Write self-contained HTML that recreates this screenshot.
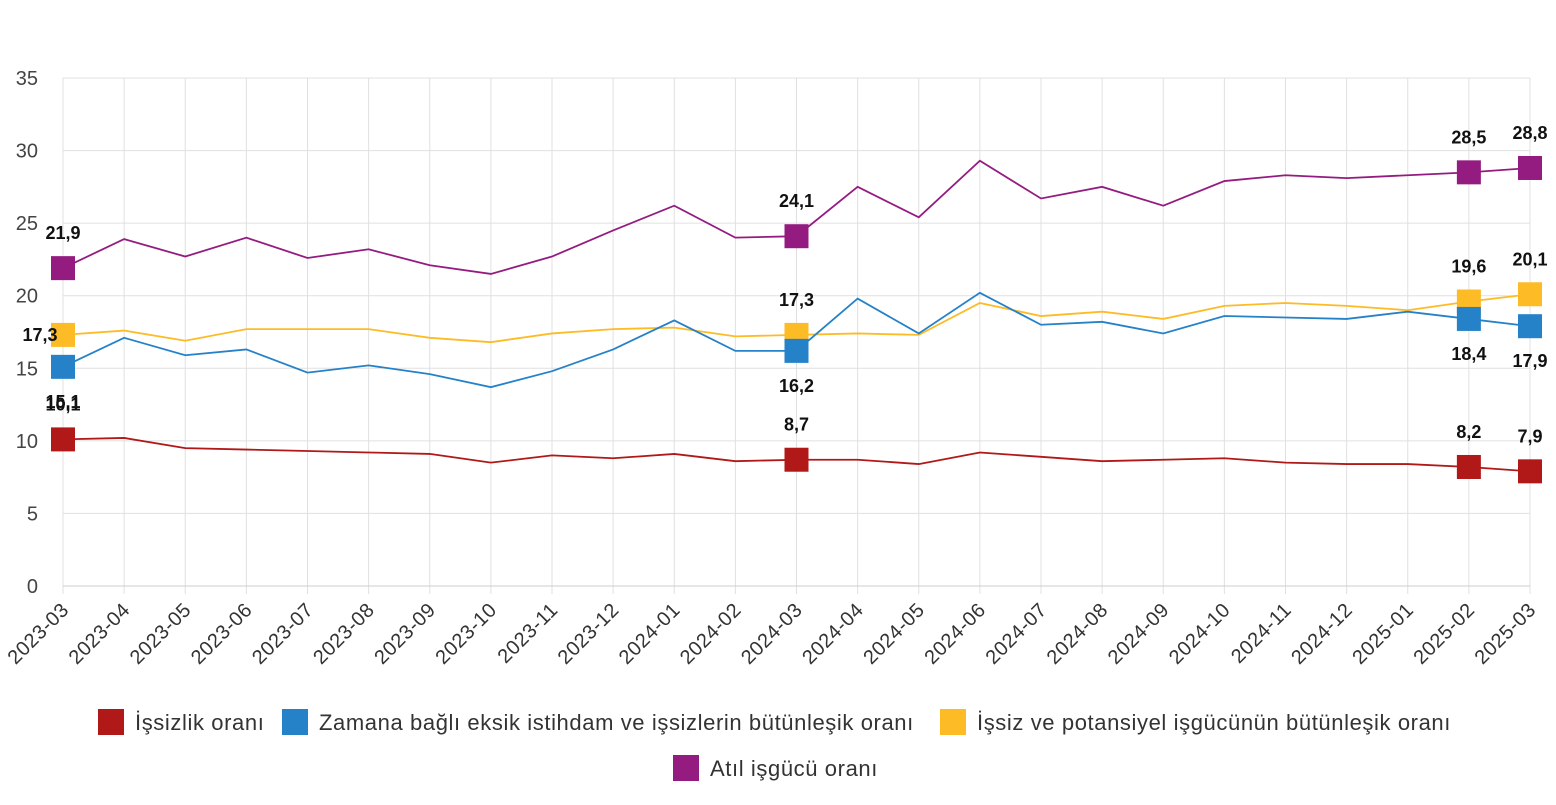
<!DOCTYPE html>
<html><head><meta charset="utf-8"><style>
html,body{margin:0;padding:0;background:#fff;}
body{width:1556px;height:800px;overflow:hidden;font-family:"Liberation Sans",sans-serif;}
</style></head><body>
<svg id="chart" width="1556" height="800" xmlns="http://www.w3.org/2000/svg" font-family="Liberation Sans, sans-serif"></svg>
<script>
const categories=["2023-03","2023-04","2023-05","2023-06","2023-07","2023-08","2023-09","2023-10","2023-11","2023-12","2024-01","2024-02","2024-03","2024-04","2024-05","2024-06","2024-07","2024-08","2024-09","2024-10","2024-11","2024-12","2025-01","2025-02","2025-03"];
const unemployment=[10.1,10.2,9.5,9.4,9.3,9.2,9.1,8.5,9.0,8.8,9.1,8.6,8.7,8.7,8.4,9.2,8.9,8.6,8.7,8.8,8.5,8.4,8.4,8.2,7.9];
const timeRelated=[15.1,17.1,15.9,16.3,14.7,15.2,14.6,13.7,14.8,16.3,18.3,16.2,16.2,19.8,17.4,20.2,18.0,18.2,17.4,18.6,18.5,18.4,18.9,18.4,17.9];
const potential=[17.3,17.6,16.9,17.7,17.7,17.7,17.1,16.8,17.4,17.7,17.8,17.2,17.3,17.4,17.3,19.5,18.6,18.9,18.4,19.3,19.5,19.3,19.0,19.6,20.1];
const slack=[21.9,23.9,22.7,24.0,22.6,23.2,22.1,21.5,22.7,24.5,26.2,24.0,24.1,27.5,25.4,29.3,26.7,27.5,26.2,27.9,28.3,28.1,28.3,28.5,28.8];
const yTicks=[0,5,10,15,20,25,30,35];
const labeledIdx=[0,12,23,24];

const svg=document.getElementById('chart');
const NS="http://www.w3.org/2000/svg";
const X0=63,X1=1530,Y0=586,Y1=78,YMAX=35;
const xs=i=>X0+(X1-X0)*i/(categories.length-1);
const ys=v=>Y0-(Y0-Y1)*v/YMAX;
function mk(t,a,p){const e=document.createElementNS(NS,t);for(const k in a)e.setAttribute(k,a[k]);(p||svg).appendChild(e);return e;}

const grid=mk('g',{});


yTicks.forEach(v=>{
  const l=mk('line',{x1:X0,x2:X1,y1:ys(v),y2:ys(v),stroke:'#e0e0e0','stroke-width':1},grid);
  
  
  const t=mk('text',{x:38,y:ys(v)+7,'text-anchor':'end','font-size':20,fill:'#444'},grid);
  
  
  t.textContent=v;
});
categories.forEach((c,i)=>{
  const l=mk('line',{x1:xs(i),x2:xs(i),y1:Y1,y2:Y0+8,stroke:'#e0e0e0','stroke-width':1},grid);
  
  
  const t=mk('text',{x:xs(i)+7,y:Y0+25,'text-anchor':'end','font-size':20,fill:'#333','letter-spacing':'0.5',transform:`rotate(-45 ${xs(i)+7} ${Y0+25})`},grid);
  
  
  t.textContent=c;
});
mk('line',{x1:X0,x2:X1,y1:Y0,y2:Y0,stroke:'#ccc','stroke-width':1});

const series=[
 {name:'unemployment',data:unemployment,color:'#b01917',pos:['above','above','above','above']},
 {name:'potential',data:potential,color:'#fdbb25',pos:['left','above','above','above']},
 {name:'time-related',data:timeRelated,color:'#2581c8',pos:['below','below','below','below']},
 {name:'slack',data:slack,color:'#941c80',pos:['above','above','above','above']}
];
series.forEach(s=>{
  const g=mk('g',{});
  
  
  const p=mk('polyline',{points:s.data.map((v,i)=>xs(i)+','+ys(v)).join(' '),fill:'none',stroke:s.color,'stroke-width':1.8},g);
  
  
  labeledIdx.forEach((i,k)=>{
    const x=xs(i),y=ys(s.data[i]);
    const r=mk('rect',{x:x-12,y:y-12,width:24,height:24,fill:s.color},g);
    
    
    let tx=x,ty=y-29;
    if(s.pos[k]==='below')ty=y+41;
    if(s.pos[k]==='left'){tx=x-23;ty=y+6;}
    const t=mk('text',{x:tx,y:ty,'text-anchor':'middle','font-size':18,'font-weight':'bold',fill:'#111'},g);
    
    
    t.textContent=s.data[i].toFixed(1).replace('.',',');
  });
});

const legend=[
 ['İşsizlik oranı','#b01917',98,722],
 ['Zamana bağlı eksik istihdam ve işsizlerin bütünleşik oranı','#2581c8',282,722],
 ['İşsiz ve potansiyel işgücünün bütünleşik oranı','#fdbb25',940,722],
 ['Atıl işgücü oranı','#941c80',673,768]
];
legend.forEach(([txt,col,x,y])=>{
  const g=mk('g',{});
  
  
  mk('rect',{x:x,y:y-13,width:26,height:26,fill:col},g);
  const t=mk('text',{x:x+37,y:y+8,'font-size':22,'letter-spacing':'0.6',fill:'#333'},g);
  t.textContent=txt;
});
</script>
</body></html>
